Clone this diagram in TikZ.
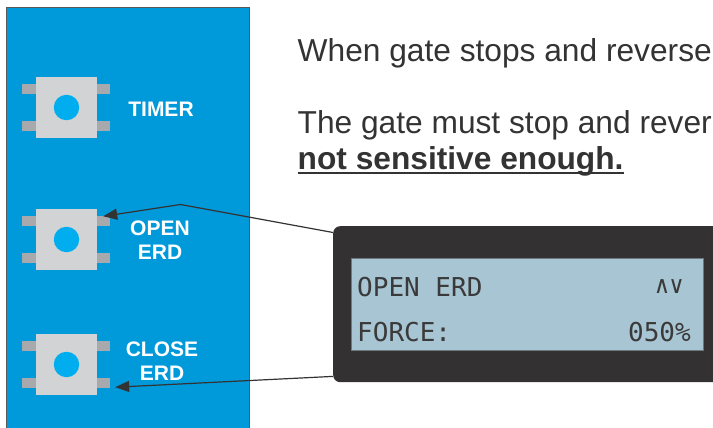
\documentclass[tikz,border=0pt]{standalone}
\usepackage{fontspec}
\setmainfont{Liberation Sans}
\newfontfamily\lcdfont{DejaVu Sans Mono}
\usetikzlibrary{arrows.meta}
\definecolor{panelblue}{HTML}{0099DA}
\definecolor{panelborder}{HTML}{58595B}
\definecolor{bodygray}{HTML}{D1D3D4}
\definecolor{pingray}{HTML}{A7A9AC}
\definecolor{btnblue}{HTML}{00AEEF}
\definecolor{dispdark}{HTML}{333132}
\definecolor{lcdblue}{HTML}{A8C5D3}
\definecolor{lcdborder}{HTML}{6E787D}
\definecolor{lcdtext}{HTML}{3A3A3A}
\definecolor{txtdark}{HTML}{333333}
\begin{document}
\begin{tikzpicture}[x=1pt,y=-1pt,
  panelbox/.style={rectangle, fill=panelblue, draw=panelborder, line width=1.2pt, inner sep=0pt, anchor=north west},
  btnbody/.style={rectangle, fill=bodygray, minimum size=61pt, inner sep=0pt},
  btndot/.style={circle, fill=btnblue, minimum size=25.5pt, inner sep=0pt},
  pin/.style={fill=pingray},
  btnlabel/.style={text=white, font=\bfseries\fontsize{21}{23.5}\selectfont, align=center, inner sep=0pt, anchor=base},
  dispbox/.style={rectangle, rounded corners=7pt, fill=dispdark, inner sep=0pt, anchor=north west},
  lcdbox/.style={rectangle, fill=lcdblue, draw=lcdborder, line width=0.8pt, inner sep=0pt, anchor=north west},
  lcdtxt/.style={text=lcdtext, font=\lcdfont\fontsize{26}{30}\selectfont, inner sep=0pt},
  bodytxt/.style={text=txtdark, font=\fontsize{31.7}{35}\selectfont, inner sep=0pt, anchor=base west},
  arr/.style={draw=txtdark, line width=1.2pt, -{Triangle[length=14pt,width=11pt]}}
]
\useasboundingbox (0,0) rectangle (713,428);
\clip (0,0) rectangle (713,428);
\fill[white] (0,0) rectangle (713,428);

% blue panel
\node[panelbox, minimum width=243pt, minimum height=440pt] (panel) at (6,7) {};

% buttons
\foreach \n/\y in {b1/107.5, b2/239.5, b3/364.5}{
  \node[btnbody] (\n) at (66.5,\y) {};
  \fill[pin] ([xshift=-14pt,yshift=-7pt]\n.north west) rectangle ++(14,10);
  \fill[pin] ([xshift=-14pt,yshift=-44pt]\n.north west) rectangle ++(14,10);
  \fill[pin] ([yshift=-7pt]\n.north east) rectangle ++(13,10);
  \fill[pin] ([yshift=-44pt]\n.north east) rectangle ++(13,10);
  \node[btndot] (\n c) at (\n) {};
}

% button labels (base = baseline of last line)
\node[btnlabel] (l1) at (161,117) {TIMER};
\node[btnlabel] (l2) at (160,259) {OPEN\\ERD};
\node[btnlabel] (l3) at (162,380) {CLOSE\\ERD};

% display
\node[dispbox, minimum width=420pt, minimum height=156pt] (disp) at (333,226) {};
\node[lcdbox, minimum width=352pt, minimum height=92pt] (lcd) at (350.7,258) {};
\node[lcdtxt, anchor=base west] (r1) at (357,296) {OPEN ERD};
\node[lcdtxt, anchor=base west] (r2) at (357,341) {FORCE:};
\node[lcdtxt, anchor=base east] (r3) at (691,341) {050\%};
\node[text=lcdtext, font=\lcdfont\fontsize{24}{28}\selectfont, inner sep=0pt, anchor=base east] (r4) at (684,293) {∧∨};

% arrows
\coordinate (bend) at (180.5,204.5);
\draw[arr] ([yshift=-6.5pt]disp.north west) -- (bend) -- ([xshift=6pt,yshift=-7.5pt]b2.north east);
\draw[arr] ([yshift=6pt]disp.south west) -- ([xshift=18pt,yshift=8pt]b3.south east);

% text
\node[bodytxt] (t1) at (297.5,62) {When gate stops and reverse};
\node[bodytxt] (t2) at (297.5,134) {The gate must stop and rever};
\node[bodytxt, font=\bfseries\fontsize{31.7}{35}\selectfont] (t3) at (297.5,169) {not sensitive enough.};
\draw[txtdark, line width=2pt] ([yshift=-4pt]t3.base west) -- ([yshift=-4pt]t3.base east);
\end{tikzpicture}
\end{document}
